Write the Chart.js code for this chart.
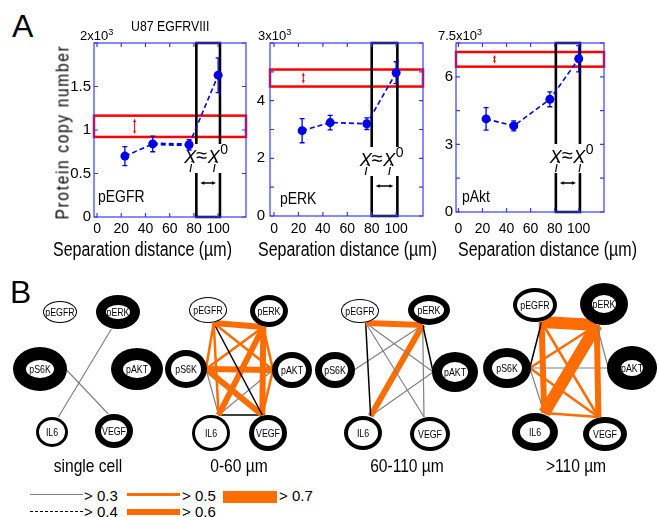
<!DOCTYPE html>
<html>
<head>
<meta charset="utf-8">
<script src="https://cdn.jsdelivr.net/npm/chart.js@4.4.1/dist/chart.umd.min.js"></script>
<style>
  body { margin: 0; background: #fff; }
  #fig { position: relative; width: 658px; height: 517px; overflow: hidden; background: #fff; }
  canvas { position: absolute; }
  .t { position: absolute; white-space: nowrap; line-height: 1; color: #000; font-family: 'Liberation Sans', Arial, sans-serif; }
  .n { transform: scaleX(0.82); transform-origin: 0 0; }
  .nc { transform: scaleX(0.82); transform-origin: 50% 0; }
  .t sup { font-size: 70%; vertical-align: 0; position: relative; top: -0.55em; }
  .lg { position: absolute; }
</style>
</head>
<body>
<div id="fig">
  <canvas id="pA1"></canvas>
  <canvas id="pA2"></canvas>
  <canvas id="pA3"></canvas>
  <canvas id="pB"></canvas>

  <div class="t" style="left:12px;top:10px;font-size:32px">A</div>
  <div class="t" style="left:10px;top:276px;font-size:32px">B</div>
  <div class="t n" style="left:131px;top:18px;font-size:15px">U87 EGFRVIII</div>
  <div class="t" style="left:80px;top:29px;font-size:13px">2x10<sup>3</sup></div>
  <div class="t" style="left:258px;top:29px;font-size:13px">3x10<sup>3</sup></div>
  <div class="t" style="left:438px;top:29px;font-size:13px">7.5x10<sup>3</sup></div>
  <div class="t" style="left:-38px;top:128px;width:200px;text-align:center;font-size:19px;letter-spacing:2px;transform:rotate(-90deg) scaleX(0.82)">Protein copy number</div>
  <div class="t n" style="left:53px;top:240px;font-size:19.5px">Separation distance (µm)</div>
  <div class="t n" style="left:258px;top:240px;font-size:19.5px">Separation distance (µm)</div>
  <div class="t n" style="left:458px;top:240px;font-size:19.5px">Separation distance (µm)</div>
  <div class="t n" style="left:98px;top:188px;font-size:17px">pEGFR</div>
  <div class="t n" style="left:280px;top:190px;font-size:17px">pERK</div>
  <div class="t n" style="left:462px;top:188px;font-size:17px">pAkt</div>

  <div class="t nc" style="left:28px;top:456px;width:120px;text-align:center;font-size:19px">single cell</div>
  <div class="t nc" style="left:179px;top:456px;width:120px;text-align:center;font-size:19px">0-60 µm</div>
  <div class="t nc" style="left:347px;top:456px;width:120px;text-align:center;font-size:19px">60-110 µm</div>
  <div class="t nc" style="left:516px;top:456px;width:120px;text-align:center;font-size:19px">&gt;110 µm</div>

  <div class="lg" style="left:30px;top:494px;width:53px;height:0;border-top:1px solid #808080"></div>
  <div class="lg" style="left:30px;top:511px;width:53px;height:0;border-top:1.5px dashed #000"></div>
  <div class="lg" style="left:127px;top:493px;width:53px;height:3px;background:#ff6c00"></div>
  <div class="lg" style="left:127px;top:509px;width:53px;height:6px;background:#ff6c00"></div>
  <div class="lg" style="left:223px;top:491px;width:54px;height:12px;background:#ff6c00"></div>
  <div class="t" style="left:84px;top:488px;font-size:15px">&gt; 0.3</div>
  <div class="t" style="left:84px;top:504px;font-size:15px">&gt; 0.4</div>
  <div class="t" style="left:182px;top:488px;font-size:15px">&gt; 0.5</div>
  <div class="t" style="left:182px;top:504px;font-size:15px">&gt; 0.6</div>
  <div class="t" style="left:279px;top:488px;font-size:15px">&gt; 0.7</div>
</div>

<script>
const SANS = "'Liberation Sans', Arial, sans-serif";
const BLUE = '#0000e6';
const ORANGE = '#ff6c00';

// ---------- panel A data (protein copy number, x10^3) ----------
const distances = [23, 46, 76, 100];
const xTicks = [0, 20, 40, 60, 80, 100];

const pegfr = [0.70, 0.84, 0.83, 1.63];
const pegfrErr = [0.11, 0.09, 0.06, 0.20];
const pegfrTicks = [0, 0.5, 1, 1.5, 2];
const pegfrLabels = [0, 0.5, 1, 1.5];
const pegfrBand = [0.92, 1.165];

const perk = [2.96, 3.24, 3.20, 4.97];
const perkErr = [0.42, 0.25, 0.20, 0.38];
const perkTicks = [0, 1, 2, 3, 4, 5, 6];
const perkLabels = [0, 2, 4];
const perkBand = [4.49, 5.08];

const pakt = [4.13, 3.82, 5.00, 6.80];
const paktErr = [0.50, 0.22, 0.33, 0.58];
const paktTicks = [0, 1.5, 3, 4.5, 6, 7.5];
const paktLabels = [0, 3, 6];
const paktBand = [6.45, 7.10];

// X_i ~ X_i^0 window (um) and position of the red double arrow
const xiWindow = [[82, 101.5], [80, 101], [81, 101]];
const bandArrowX = [31, 24, 30];

// ---------- panel B data ----------
const networks = ['single cell', '0-60 µm', '60-110 µm', '>110 µm'];
const proteins = ['pEGFR', 'pERK', 'pS6K', 'pAKT', 'IL6', 'VEGF'];
const ringWeight = [
  [1, 10, 13, 12, 3, 6],
  [1, 5, 6, 6, 3, 5],
  [1, 6, 7, 10, 4, 4],
  [4, 12, 9, 14, 8, 6]
];
const edgesSingle = [['pERK', 'IL6', 0.35], ['pS6K', 'VEGF', 0.35]];
const edges0to60 = [
  ['pEGFR', 'pERK', 0.65], ['pEGFR', 'pS6K', 0.55], ['pEGFR', 'pAKT', 0.55],
  ['pEGFR', 'IL6', 0.55], ['pEGFR', 'VEGF', 0.45], ['pERK', 'pS6K', 0.55],
  ['pERK', 'pAKT', 0.55], ['pERK', 'IL6', 0.66], ['pERK', 'VEGF', 0.65],
  ['pS6K', 'pAKT', 0.65], ['pS6K', 'IL6', 0.35], ['pS6K', 'VEGF', 0.66],
  ['pAKT', 'IL6', 0.35], ['pAKT', 'VEGF', 0.55], ['IL6', 'VEGF', 0.45]
];
const edges60to110 = [
  ['pEGFR', 'pERK', 0.65], ['pEGFR', 'pAKT', 0.35], ['pEGFR', 'IL6', 0.45],
  ['pEGFR', 'VEGF', 0.35], ['pERK', 'pS6K', 0.35], ['pERK', 'pAKT', 0.45],
  ['pERK', 'IL6', 0.65], ['pERK', 'VEGF', 0.35], ['pAKT', 'IL6', 0.35]
];
const edgesOver110 = [
  ['pEGFR', 'pERK', 0.75], ['pEGFR', 'pS6K', 0.45], ['pEGFR', 'IL6', 0.65],
  ['pEGFR', 'VEGF', 0.55], ['pERK', 'pS6K', 0.55], ['pERK', 'pAKT', 0.35],
  ['pERK', 'IL6', 0.75], ['pERK', 'VEGF', 0.62], ['pS6K', 'pAKT', 0.35],
  ['pS6K', 'IL6', 0.35], ['pS6K', 'VEGF', 0.55], ['IL6', 'VEGF', 0.55]
];
const networkEdges = [edgesSingle, edges0to60, edges60to110, edgesOver110];

// network drawing layout (figure units), node ellipse radii
const nodeCenters = [
  [[60, 312], [118, 312], [40, 369], [137, 369], [52, 432], [114, 431]],
  [[208, 310], [269, 311], [186, 369], [292, 370], [211, 433], [268, 433]],
  [[360, 311], [429, 310], [335, 370], [455, 372], [363, 433], [430, 434]],
  [[535, 305], [604, 304], [507, 368], [632, 368], [535, 432], [605, 434]]
];
const nodeRadii = [
  [[17, 11], [22, 17], [27, 22], [26, 21], [16, 15], [19, 17]],
  [[19, 13], [19, 16], [21, 19], [20, 18], [19, 18], [19, 18]],
  [[19, 12], [21, 15], [20, 18], [23, 20], [19, 17], [20, 17]],
  [[22, 17], [24, 21], [24, 20], [25, 22], [23, 19], [22, 17]]
];
// where edges leave each node: fraction of rx, ry
const anchorDir = [[0.3, 1], [-0.3, 1], [0.95, 0], [-0.95, 0], [0.4, -1], [-0.3, -1]];

// ---------- helpers ----------
function arrowV(ctx, x, y0, y1, color, lw, h) {
  ctx.save();
  ctx.strokeStyle = color; ctx.fillStyle = color; ctx.lineWidth = lw;
  ctx.beginPath(); ctx.moveTo(x, y0 + h); ctx.lineTo(x, y1 - h); ctx.stroke();
  ctx.beginPath(); ctx.moveTo(x, y0); ctx.lineTo(x - h * 0.6, y0 + h * 1.3); ctx.lineTo(x + h * 0.6, y0 + h * 1.3); ctx.closePath(); ctx.fill();
  ctx.beginPath(); ctx.moveTo(x, y1); ctx.lineTo(x - h * 0.6, y1 - h * 1.3); ctx.lineTo(x + h * 0.6, y1 - h * 1.3); ctx.closePath(); ctx.fill();
  ctx.restore();
}
function arrowH(ctx, x0, x1, y, color, lw, h) {
  ctx.save();
  ctx.strokeStyle = color; ctx.fillStyle = color; ctx.lineWidth = lw;
  ctx.beginPath(); ctx.moveTo(x0 + h, y); ctx.lineTo(x1 - h, y); ctx.stroke();
  ctx.beginPath(); ctx.moveTo(x0, y); ctx.lineTo(x0 + h * 1.3, y - h * 0.6); ctx.lineTo(x0 + h * 1.3, y + h * 0.6); ctx.closePath(); ctx.fill();
  ctx.beginPath(); ctx.moveTo(x1, y); ctx.lineTo(x1 - h * 1.3, y - h * 0.6); ctx.lineTo(x1 - h * 1.3, y + h * 0.6); ctx.closePath(); ctx.fill();
  ctx.restore();
}

// red band, X_i window, error bars, frame with inward ticks
const panelOverlay = {
  id: 'panelOverlay',
  beforeDatasetsDraw(chart) {
    const o = chart.options.plugins.panelOverlay;
    const { ctx, chartArea: a, scales: { x, y } } = chart;
    ctx.save();
    const yHi = y.getPixelForValue(o.band[1]), yLo = y.getPixelForValue(o.band[0]);
    ctx.strokeStyle = '#ff0000'; ctx.lineWidth = 2.5;
    ctx.strokeRect(a.left, yHi, a.right - a.left, yLo - yHi);
    arrowV(ctx, x.getPixelForValue(o.arrowX), yHi + 3, yLo - 3, '#ff0000', 1, 2.5);

    const wl = x.getPixelForValue(o.win[0]), wr = x.getPixelForValue(o.win[1]);
    const by = a.top + o.textY;
    const gTop = by - 19, gBot = by + 10;
    ctx.strokeStyle = '#000'; ctx.lineWidth = 2.6;
    ctx.beginPath();
    ctx.moveTo(wl, gTop); ctx.lineTo(wl, a.top); ctx.lineTo(wr, a.top); ctx.lineTo(wr, gTop);
    ctx.moveTo(wl, gBot); ctx.lineTo(wl, a.bottom); ctx.lineTo(wr, a.bottom); ctx.lineTo(wr, gBot);
    ctx.stroke();

    // X_i ≈ X_i^0
    let tx = wl + o.textDx;
    ctx.fillStyle = '#000'; ctx.textBaseline = 'alphabetic'; ctx.textAlign = 'left';
    ctx.font = "italic 18px " + SANS;
    const wX = ctx.measureText('X').width;
    ctx.fillText('X', tx, by);
    ctx.font = "italic 14px " + SANS;
    ctx.fillText('i', tx + wX * 0.4, by + 9);
    ctx.font = "20px " + SANS;
    ctx.fillText('≈', tx + wX, by - 1);
    const wA = ctx.measureText('≈').width;
    const x2 = tx + wX + wA + 0.5;
    ctx.font = "italic 18px " + SANS;
    ctx.fillText('X', x2, by);
    ctx.font = "italic 14px " + SANS;
    ctx.fillText('i', x2 + wX * 0.4, by + 9);
    ctx.font = "14px " + SANS;
    ctx.fillText('0', x2 + wX + 0.5, by - 9);
    arrowH(ctx, wl + 4, wr - 4, by + 20, '#000', 1.5, 3);
    ctx.restore();
  },
  afterDatasetsDraw(chart) {
    const { ctx, scales: { y } } = chart;
    const ds = chart.data.datasets[0];
    const meta = chart.getDatasetMeta(0);
    ctx.save();
    ctx.strokeStyle = BLUE; ctx.lineWidth = 1.3;
    meta.data.forEach((pt, i) => {
      const v = ds.data[i].y, e = ds.errors[i];
      const y0 = y.getPixelForValue(v + e), y1 = y.getPixelForValue(v - e);
      ctx.beginPath();
      ctx.moveTo(pt.x, y0); ctx.lineTo(pt.x, y1);
      ctx.moveTo(pt.x - 2.5, y0); ctx.lineTo(pt.x + 2.5, y0);
      ctx.moveTo(pt.x - 2.5, y1); ctx.lineTo(pt.x + 2.5, y1);
      ctx.stroke();
    });
    ctx.restore();
  },
  afterDraw(chart) {
    const { ctx, chartArea: a, scales: { x, y } } = chart;
    ctx.save();
    ctx.strokeStyle = '#3a3aff'; ctx.lineWidth = 1.2;
    ctx.strokeRect(a.left, a.top, a.right - a.left, a.bottom - a.top);
    ctx.beginPath();
    x.ticks.forEach(t => {
      const px = x.getPixelForValue(t.value);
      ctx.moveTo(px, a.bottom); ctx.lineTo(px, a.bottom - 4);
      ctx.moveTo(px, a.top); ctx.lineTo(px, a.top + 4);
    });
    y.ticks.forEach(t => {
      const py = y.getPixelForValue(t.value);
      ctx.moveTo(a.left, py); ctx.lineTo(a.left + 4, py);
      ctx.moveTo(a.right, py); ctx.lineTo(a.right - 4, py);
    });
    ctx.stroke();
    ctx.restore();
  }
};

function panelChart(p) {
  const AX_W = 40, AX_H = 30, PT = 12, PR = 14;
  const cv = document.getElementById(p.id);
  cv.width = (p.area.r - p.area.l) + AX_W + PR;
  cv.height = (p.area.b - p.area.t) + PT + AX_H;
  cv.style.left = (p.area.l - AX_W) + 'px';
  cv.style.top = (p.area.t - PT) + 'px';

  return new Chart(cv, {
    type: 'line',
    data: {
      datasets: [{
        data: distances.map((d, i) => ({ x: d, y: p.values[i] })),
        errors: p.errors,
        borderColor: BLUE,
        backgroundColor: BLUE,
        borderWidth: 1.6,
        borderDash: [5, 3],
        pointRadius: 4.5,
        pointBorderWidth: 0,
        segment: p.thickSegment !== undefined ? {
          borderWidth: ctx => ctx.p0DataIndex === p.thickSegment ? 3 : 1.6
        } : undefined
      }]
    },
    options: {
      responsive: false,
      animation: false,
      layout: { padding: { left: 0, top: PT, right: PR, bottom: 0 }, autoPadding: false },
      plugins: {
        legend: { display: false },
        tooltip: { enabled: false },
        panelOverlay: { band: p.band, arrowX: p.arrowX, win: p.win, textY: p.textY, textDx: p.textDx }
      },
      scales: {
        x: {
          type: 'linear', min: p.xMin, max: p.xMax,
          grid: { display: false, drawTicks: false },
          border: { display: false },
          afterBuildTicks: s => { s.ticks = xTicks.map(v => ({ value: v })); },
          afterFit: s => { s.height = AX_H; s.paddingLeft = 0; s.paddingRight = 0; },
          ticks: { padding: p.xPad, color: '#000', maxRotation: 0, autoSkip: false,
                   font: { family: SANS, size: 14 }, callback: v => String(v) }
        },
        y: {
          type: 'linear', min: 0, max: p.yMax,
          grid: { display: false, drawTicks: false },
          border: { display: false },
          afterBuildTicks: s => { s.ticks = p.ticks.map(v => ({ value: v })); },
          afterFit: s => { s.width = AX_W; s.paddingTop = 0; s.paddingBottom = 0; },
          ticks: { padding: p.yPad, color: '#000', autoSkip: false,
                   font: { family: SANS, size: 15 },
                   callback: v => p.labels.includes(v) ? String(v) : '' }
        }
      }
    },
    plugins: [panelOverlay]
  });
}

panelChart({ id: 'pA1', values: pegfr, errors: pegfrErr, ticks: pegfrTicks, labels: pegfrLabels,
  band: pegfrBand, win: xiWindow[0], arrowX: bandArrowX[0], thickSegment: 1,
  area: { l: 94, t: 43, r: 246, b: 217 }, xMin: -2.5, xMax: 123, yMax: 2,
  xPad: 4, yPad: 3, textY: 120, textDx: -12 });
panelChart({ id: 'pA2', values: perk, errors: perkErr, ticks: perkTicks, labels: perkLabels,
  band: perkBand, win: xiWindow[1], arrowX: bandArrowX[1],
  area: { l: 270, t: 43, r: 423, b: 216 }, xMin: -3.3, xMax: 122, yMax: 6,
  xPad: 5, yPad: 5, textY: 123, textDx: -12 });
panelChart({ id: 'pA3', values: pakt, errors: paktErr, ticks: paktTicks, labels: paktLabels,
  band: paktBand, win: xiWindow[2], arrowX: bandArrowX[2],
  area: { l: 456, t: 43, r: 604, b: 212 }, xMin: -2, xMax: 121, yMax: 7.5,
  xPad: 9, yPad: 3, textY: 120, textDx: -6 });

// ---------- panel B: correlation networks ----------
function edgeStyle(w) {
  if (w >= 0.7) return { color: ORANGE, width: 12 };
  if (w >= 0.6) return { color: ORANGE, width: 6 };
  if (w >= 0.5) return { color: ORANGE, width: 2.5 };
  if (w >= 0.4) return { color: '#000', width: 1.5 };
  return { color: '#808080', width: 1.2 };
}
function anchor(n, k) {
  const c = nodeCenters[n][k], r = nodeRadii[n][k], d = anchorDir[k];
  return { x: c[0] + d[0] * r[0], y: c[1] + d[1] * r[1] };
}

const bDatasets = [];
networkEdges.forEach((edges, n) => {
  edges.forEach(([a, b, w]) => {
    const st = edgeStyle(w);
    bDatasets.push({
      showLine: true,
      data: [anchor(n, proteins.indexOf(a)), anchor(n, proteins.indexOf(b))],
      borderColor: st.color, borderWidth: st.width, borderCapStyle: 'butt',
      pointRadius: 0
    });
  });
});
networks.forEach((name, n) => {
  bDatasets.push({
    label: name,
    isNodes: true, network: n,
    showLine: false,
    data: proteins.map((p, k) => ({ x: nodeCenters[n][k][0], y: nodeCenters[n][k][1] })),
    pointRadius: 0
  });
});

const nodePlugin = {
  id: 'nodePlugin',
  afterDatasetsDraw(chart) {
    const ctx = chart.ctx;
    ctx.save();
    chart.data.datasets.forEach((ds, di) => {
      if (!ds.isNodes) return;
      const meta = chart.getDatasetMeta(di);
      meta.data.forEach((pt, k) => {
        const [rx, ry] = nodeRadii[ds.network][k];
        const t = ringWeight[ds.network][k];
        ctx.fillStyle = '#000';
        ctx.beginPath(); ctx.ellipse(pt.x, pt.y, rx, ry, 0, 0, Math.PI * 2); ctx.fill();
        ctx.fillStyle = '#fff';
        ctx.beginPath(); ctx.ellipse(pt.x, pt.y, Math.max(rx - t, 4), Math.max(ry - t, 3), 0, 0, Math.PI * 2); ctx.fill();
        ctx.save();
        ctx.translate(pt.x, pt.y + 0.5);
        ctx.scale(0.8, 1);
        ctx.fillStyle = '#000';
        ctx.font = "11px " + SANS;
        ctx.textAlign = 'center'; ctx.textBaseline = 'middle';
        ctx.fillText(proteins[k], 0, 0);
        ctx.restore();
      });
    });
    ctx.restore();
  }
};

const cvB = document.getElementById('pB');
cvB.width = 658; cvB.height = 185;
cvB.style.left = '0px'; cvB.style.top = '280px';
new Chart(cvB, {
  type: 'scatter',
  data: { datasets: bDatasets },
  options: {
    responsive: false,
    animation: false,
    layout: { padding: 0, autoPadding: false },
    plugins: { legend: { display: false }, tooltip: { enabled: false } },
    scales: {
      x: { type: 'linear', min: 0, max: 658, display: false },
      y: { type: 'linear', min: 280, max: 465, reverse: true, display: false }
    }
  },
  plugins: [nodePlugin]
});
</script>
</body>
</html>
